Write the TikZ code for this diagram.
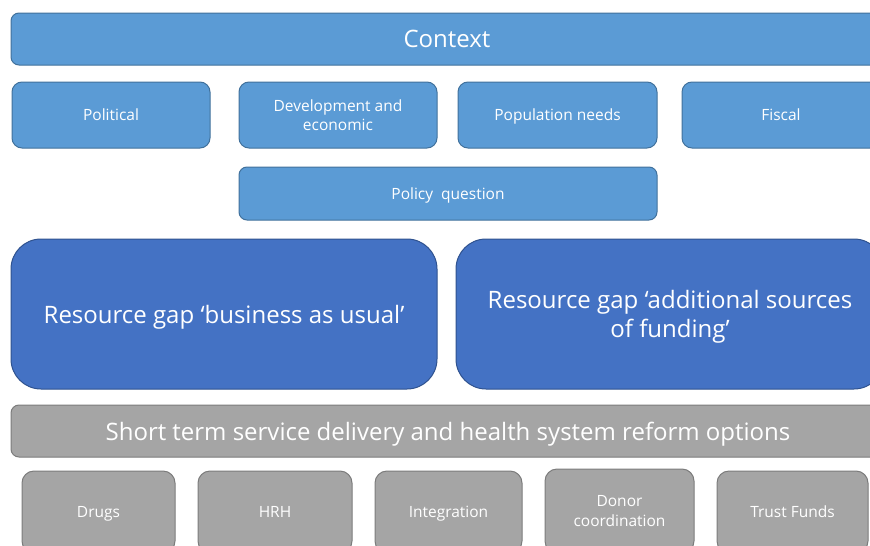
\documentclass[tikz,border=0pt]{standalone}
\usepackage{fontspec}
\setmainfont{Open Sans}

\definecolor{ctxblue}{HTML}{5B9BD5}
\definecolor{ctxedge}{HTML}{41719C}
\definecolor{gapblue}{HTML}{4472C4}
\definecolor{gapedge}{HTML}{2F528F}
\definecolor{optgrey}{HTML}{A5A5A5}
\definecolor{optedge}{HTML}{7C7C7C}

\tikzset{
  box/.style={draw,line width=1pt,text=white,align=center,inner sep=0pt,outer sep=0pt,text depth=0pt},
  small/.style={font=\fontsize{15.5}{19.5}\selectfont},
  big/.style={font=\fontsize{24}{29.5}\selectfont},
  ctx/.style={box,fill=ctxblue,draw=ctxedge,rounded corners=10pt},
  gap/.style={box,fill=gapblue,draw=gapedge,rounded corners=30pt,big},
  opt/.style={box,fill=optgrey,draw=optedge,rounded corners=12pt,small},
}

\begin{document}
\begin{tikzpicture}[x=1pt,y=-1pt]
\useasboundingbox (0,0) rectangle (870,546);
\clip (0,0) rectangle (870,546);
% context row
\node[ctx,rounded corners=8pt,minimum width=872pt,minimum height=52pt,big] (context) at (447,39) {Context};
\node[ctx,minimum width=198pt,minimum height=66pt,small] (political) at (111,115) {Political};
\node[ctx,minimum width=198pt,minimum height=66pt,small] (develop) at (338,115) {Development and\\economic};
\node[ctx,minimum width=199pt,minimum height=66pt,small] (popneeds) at (557.5,115) {Population needs};
\node[ctx,minimum width=198pt,minimum height=66pt,small] (fiscal) at (781,115) {Fiscal};
\node[ctx,rounded corners=8pt,minimum width=418pt,minimum height=53pt,small] (policy) at (448,193.5) {Policy\ \ question};
% resource gaps
\node[gap,minimum width=426pt,minimum height=150pt] (bau) at (224,314) {Resource gap ‘business as usual’};
\node[gap,minimum width=428pt,minimum height=150pt] (extra) at (670,314) {Resource gap ‘additional sources\\of funding’};
% reform options
\node[opt,rounded corners=8pt,minimum width=874pt,minimum height=52pt,big] (reform) at (448,431) {Short term service delivery and health system reform options};
\node[opt,minimum width=153pt,minimum height=82pt] (drugs) at (98.5,512) {Drugs};
\node[opt,minimum width=154pt,minimum height=82pt] (hrh) at (275,512) {HRH};
\node[opt,minimum width=147pt,minimum height=82pt] (integ) at (448.5,512) {Integration};
\node[opt,minimum width=149pt,minimum height=84pt] (donor) at (619.5,511) {Donor\\coordination};
\node[opt,minimum width=151pt,minimum height=82pt] (trust) at (792.5,512) {Trust Funds};
\end{tikzpicture}
\end{document}
